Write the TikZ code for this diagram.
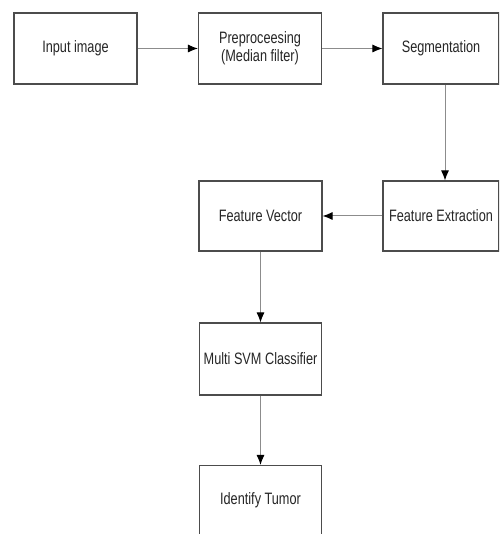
\documentclass[tikz,border=0pt]{standalone}
\usepackage{fontspec}
\setmainfont[FakeStretch=0.77]{Liberation Sans}
\usetikzlibrary{arrows.meta}
\begin{document}
\begin{tikzpicture}[x=1pt, y=1pt, node distance=180pt]
        % Define block styles
        \tikzstyle{block} = [rectangle, draw=black!70, line width=1.1pt, fill=white, text=black!85, minimum width=123pt, minimum height=71pt, align=center, font=\fontsize{16.5}{18}\selectfont, inner sep=2pt]
        \tikzstyle{line} = [draw=black!45, line width=1pt, -{Latex[black, length=10pt, width=8pt]}]

        \useasboundingbox (0,0) rectangle (499,534);
        \clip (0,0) rectangle (499,534);

        % Place nodes
        \node [block] (input) at (75.5,485.5) {Input image};
        \node [block, right of=input, node distance=184.5pt] (preproc) {Preproceesing\\(Median filter)};
        \node [block, right of=preproc, node distance=181pt, minimum width=116pt] (segment) {Segmentation};

        \node [block, below of=segment, node distance=167.5pt, minimum width=116pt, minimum height=70pt] (extract) {Feature Extraction};
        \node [block, left of=extract, node distance=180.5pt, minimum height=70pt] (vector) {Feature Vector};

        \node [block, below of=vector, node distance=143pt, minimum width=122pt, minimum height=72pt] (svm) {Multi SVM Classifier};
        \node [block, below of=svm, node distance=141.5pt, minimum width=122pt, minimum height=70pt] (tumor) {Identify Tumor};

        % Draw edges
        \path [line] (input) -- (preproc);
        \path [line] (preproc) -- (segment);
        \path [line] ([xshift=4pt]segment.south) -- ([xshift=4pt]extract.north);
        \path [line] (extract) -- (vector);
        \path [line] (vector) -- (svm);
        \path [line] (svm) -- (tumor);
    \end{tikzpicture}
\end{document}
